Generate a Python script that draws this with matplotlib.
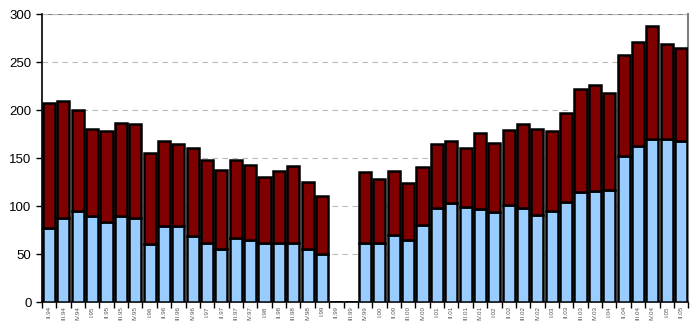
import matplotlib.pyplot as plt
import numpy as np

plt.rcParams['font.family'] = ['Liberation Sans', 'DejaVu Sans']

labels = ["II.94", "III.94", "IV.94",
          "I.95", "II.95", "III.95", "IV.95",
          "I.96", "II.96", "III.96", "IV.96",
          "I.97", "II.97", "III.97", "IV.97",
          "I.98", "II.98", "III.98", "IV.98",
          "I.99", "II.99", "III.99", "IV.99",
          "I.00", "II.00", "III.00", "IV.00",
          "I.01", "II.01", "III.01", "IV.01",
          "I.02", "II.02", "III.02", "IV.02",
          "I.03", "II.03", "III.03", "IV.03",
          "I.04", "II.04", "III.04", "IV.04",
          "I.05", "II.05"]

totals = [207, 209, 200,
          180, 178, 187, 186,
          155, 168, 165, 160,
          148, 138, 148, 143,
          130, 137, 142, 125,
          111, 0, 0, 136,
          128, 137, 124, 141,
          165, 168, 160, 176,
          166, 179, 186, 180,
          178, 197, 222, 226,
          218, 257, 271, 288,
          269, 265]

lower = [77, 88, 95,
         90, 83, 90, 88,
         60, 79, 79, 69,
         61, 55, 67, 65,
         61, 61, 62, 55,
         50, 0, 0, 61,
         61, 70, 65, 80,
         98, 103, 99, 97,
         94, 101, 98, 91,
         95, 104, 115, 116,
         117, 152, 163, 170,
         170, 168]

upper = [t - l for t, l in zip(totals, lower)]

fig = plt.figure(figsize=(6.98, 3.29), dpi=100)
ax = fig.add_axes([0.06, 0.082, 0.926, 0.875])

x = np.arange(len(labels))
ax.bar(x, lower, width=0.84, color="#99CCFF", edgecolor="black", linewidth=1.8, zorder=3)
ax.bar(x, upper, bottom=lower, width=0.84, color="#800000", edgecolor="black", linewidth=1.8, zorder=3)

ax.set_xlim(-0.5, len(labels) - 0.5)
ax.set_ylim(0, 300)
ax.set_yticks(range(0, 301, 50))
ax.yaxis.grid(True, linestyle=(0, (5, 4)), color="#bbbbbb", linewidth=0.8, zorder=0)
ax.axhline(300, color="#808080", linewidth=1.5, zorder=1)

ax.set_xticks(x)
ax.set_xticklabels(labels, rotation=90, fontsize=4.5, color="#555555")
ax.set_xticks(np.arange(-0.5, len(labels)), minor=True)
ax.tick_params(axis="x", which="major", length=0, pad=3)
ax.tick_params(axis="x", which="minor", length=4, width=1, color="black")
ax.tick_params(axis="y", labelsize=9.5, length=4, width=1)

ax.spines["top"].set_visible(False)
ax.spines["right"].set_color("#808080")
ax.spines["right"].set_linewidth(1.5)
ax.spines["left"].set_linewidth(1.2)
ax.spines["bottom"].set_linewidth(1.2)

plt.savefig("out.png", dpi=100)
